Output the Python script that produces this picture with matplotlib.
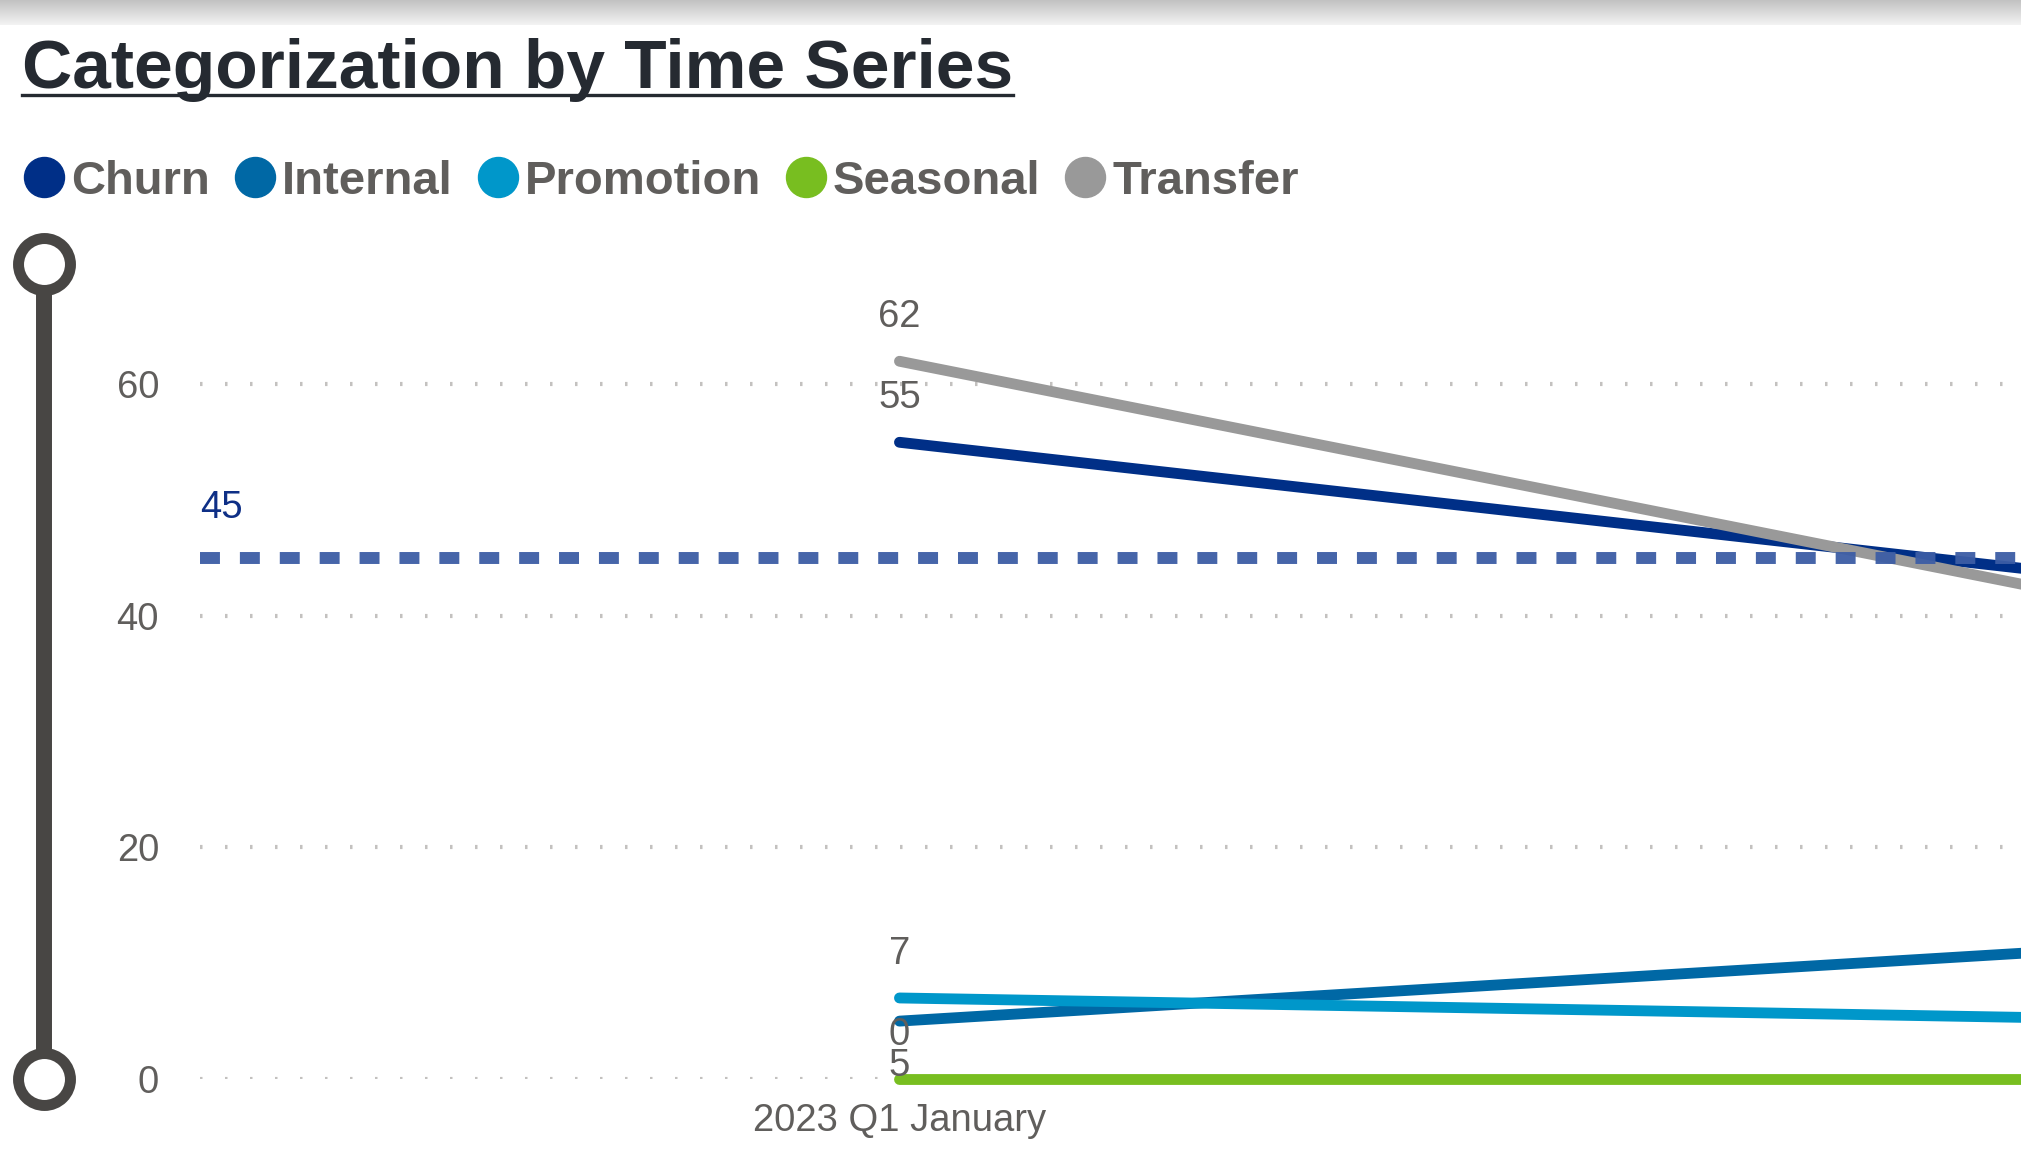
import numpy as np
import matplotlib
matplotlib.use('Agg')
import matplotlib.pyplot as plt
import matplotlib.transforms as mtransforms
from matplotlib.lines import Line2D

plt.rcParams['font.family'] = ['Liberation Sans', 'DejaVu Sans']

# ---- data ----
months    = ['2023 Q1 January', '2023 Q1 February']
churn     = [55, 42]
internal  = [5, 12]
promotion = [7, 5]
seasonal  = [0, 0]
transfer  = [62, 39]
target    = 45
yticks    = [0, 20, 40, 60]

names  = ['Churn', 'Internal', 'Promotion', 'Seasonal', 'Transfer']
values = [churn, internal, promotion, seasonal, transfer]
colors = ['#002F87', '#0068A5', '#0097CA', '#78BE20', '#999999']
# where the value label sits: +1 above the point, -1 below
label_side = [1, -1, 1, 1, 1]

TEXT_GREY = '#605E5C'
W, H = 2021, 1157

fig = plt.figure(figsize=(W / 100, H / 100), dpi=100)
fig.patch.set_facecolor('white')

# top shadow strip
sh = fig.add_axes([0, 1 - 25 / H, 1, 25 / H])
grad = np.linspace(0.76, 0.95, 50).reshape(-1, 1)
sh.imshow(grad, cmap='gray', vmin=0, vmax=1, aspect='auto', extent=[0, 1, 0, 1])
sh.axis('off')

# main plot area
ax = fig.add_axes([200 / W, 78 / H, (W - 200) / W, 815 / H])
x = np.arange(len(months))

for s in ax.spines.values():
    s.set_visible(False)
ax.set_yticks(yticks)
ax.set_xticks(x)
ax.set_xticklabels(months)
ax.tick_params(axis='both', length=0, labelsize=27.5, labelcolor=TEXT_GREY)
ax.tick_params(axis='y', pad=29.5)
ax.tick_params(axis='x', pad=17)
ax.yaxis.grid(True, color='#C3C1BF', linewidth=3.0, linestyle=(0, (0.6, 5.4)))
ax.set_axisbelow(True)

for name, vals, col, side in zip(names, values, colors, label_side):
    ax.plot(x, vals, color=col, linewidth=7.8, solid_capstyle='round',
            clip_on=False, zorder=3)
    for xi, v in zip(x, vals):
        ax.annotate(str(v), (xi, v), xytext=(0, 32 * side), textcoords='offset points',
                    ha='center', va='center', fontsize=27.5, color=TEXT_GREY, zorder=5)

# constant line
ax.axhline(target, color='#3C5DA5', linewidth=8.6, dashes=(1.67, 1.67),
           dash_capstyle='butt', alpha=0.95, zorder=4)
trans = mtransforms.blended_transform_factory(ax.transAxes, ax.transData)
ax.text(0, target + 4.3, str(target), transform=trans, ha='left', va='center',
        fontsize=27.5, color='#0E2F86')

# zoom slider on the left
sx = (44 - 200) / (W - 200)
ax.plot([sx, sx], [0, 70.4], transform=trans, color='#484644', linewidth=11.5,
        solid_capstyle='butt', clip_on=False, zorder=2)
ax.plot([sx, sx], [0, 70.4], transform=trans, linestyle='none', marker='o',
        markersize=37.4, markerfacecolor='white', markeredgecolor='#484644',
        markeredgewidth=7.9, clip_on=False, zorder=3)

# limits last, set_xticks would otherwise widen the view
ax.set_xlim(-0.522, 0.837)
ax.set_ylim(0, 70.4)

# title with underline
title = fig.text(22 / W, 1 - 88 / H, 'Categorization by Time Series', fontsize=50,
                 fontweight='bold', color='#252A31', va='baseline', ha='left')
fig.canvas.draw()
renderer = fig.canvas.get_renderer()
bb = title.get_window_extent(renderer)
uy = 1 - 95 / H
fig.add_artist(Line2D([bb.x0 / W, bb.x1 / W], [uy, uy], color='#252A31',
                      linewidth=2.4, transform=fig.transFigure))

# legend, drawn item by item
ly = 177
cx = 44
for name, col in zip(names, colors):
    fig.add_artist(Line2D([cx / W], [1 - ly / H], marker='o', markersize=28.8,
                          markerfacecolor=col, markeredgecolor=col, linestyle='none',
                          transform=fig.transFigure))
    t = fig.text((cx + 27) / W, 1 - (ly + 17) / H, name, fontsize=34, fontweight='bold',
                 color=TEXT_GREY, va='baseline', ha='left')
    tb = t.get_window_extent(renderer)
    cx = tb.x1 + 45

fig.savefig('out.png', dpi=100, facecolor='white')
